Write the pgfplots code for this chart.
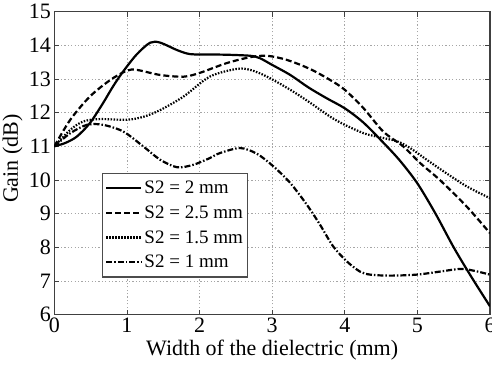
\documentclass[border=0pt]{standalone}
\usepackage{pgfplots}
\pgfplotsset{compat=1.18}
\usepackage{fontspec}
\setmainfont{Liberation Serif}
\begin{document}
\begin{tikzpicture}
\begin{axis}[
  scale only axis,
  width=435.7bp, height=303bp,
  xmin=0, xmax=6, ymin=6, ymax=15,
  xtick={0,1,2,3,4,5,6}, ytick={6,7,8,9,10,11,12,13,14,15},
  grid=major,
  major grid style={gray!70, line width=0.8bp, dash pattern=on 1.2bp off 2.2bp},
  axis line style={gray!50!black, line width=1.2bp},
  tick style={gray!50!black, line width=0.8bp},
  tick align=inside,
  major tick length=5bp,
  tick pos=both,
  /pgf/number format/assume math mode=true,
  ticklabel style={font=\fontsize{22bp}{26bp}\selectfont},
  label style={font=\fontsize{22bp}{26bp}\selectfont},
  xlabel={Width of the dielectric (mm)},
  ylabel={Gain (dB)},
  ylabel style={at={(axis description cs:-0.096,0.515)}, anchor=center},
  legend cell align=left,
  legend style={at={(0.1088,0.4686)}, anchor=north west,
    font=\fontsize{19bp}{22bp}\selectfont,
    draw=gray!60!black, line width=1.2bp, fill=white,
    inner xsep=3bp, inner ysep=6bp, row sep=6.5bp},
  legend image code/.code={\draw[#1] (0bp,0bp) -- (35bp,0bp);},
  every axis plot/.append style={black, line width=2.2bp, smooth},
]
\addplot[solid] coordinates {
(0,11.0) (0.15,11.1) (0.31,11.29) (0.49,11.69) (0.67,12.28) (0.8,12.75) (0.93,13.17)
(1.13,13.72) (1.32,14.08) (1.46,14.08) (1.69,13.86) (1.87,13.74) (2.14,13.73)
(2.4,13.72) (2.7,13.69) (2.83,13.62) (3.0,13.42) (3.25,13.12) (3.5,12.75) (3.75,12.43)
(4.0,12.13) (4.25,11.72) (4.5,11.18) (4.75,10.6) (5.0,9.9) (5.25,9.0) (5.5,8.0)
(5.75,7.1) (6.0,6.25)};
\addlegendentry{S2 = 2 mm\hspace{9bp}}
\addplot[dash pattern=on 6bp off 3bp] coordinates {
(0,11.0) (0.22,11.79) (0.49,12.48) (0.77,12.97) (1.0,13.25) (1.14,13.27) (1.46,13.12)
(1.78,13.07) (2.0,13.18) (2.37,13.47) (2.7,13.65) (2.93,13.69) (3.2,13.57) (3.52,13.3)
(3.8,12.97) (4.0,12.68) (4.26,12.13) (4.53,11.44) (4.81,10.99) (5.04,10.5) (5.31,10.0) (5.68,9.21)
(6.0,8.42)};
\addlegendentry{S2 = 2.5 mm\hspace{9bp}}
\addplot[dash pattern=on 1.5bp off 1.5bp] coordinates {
(0,11.0) (0.22,11.49) (0.4,11.74) (0.63,11.81) (1.0,11.79) (1.23,11.88) (1.46,12.08)
(1.78,12.48) (2.14,13.07) (2.51,13.3) (2.7,13.27) (2.93,13.07) (3.25,12.68) (3.52,12.3)
(3.8,11.88) (4.0,11.64) (4.26,11.39) (4.44,11.29) (4.72,11.15) (4.9,10.95) (5.13,10.6) (5.4,10.2) (5.68,9.81)
(6.0,9.46)};
\addlegendentry{S2 = 1.5 mm\hspace{9bp}}
\addplot[dash pattern=on 6bp off 2bp on 1.5bp off 2bp] coordinates {
(0,11.0) (0.22,11.39) (0.45,11.64) (0.67,11.64) (0.95,11.44) (1.23,10.99) (1.46,10.6)
(1.69,10.38) (1.91,10.45) (2.14,10.65) (2.28,10.8) (2.56,10.95) (2.79,10.78) (3.02,10.4)
(3.25,9.91) (3.48,9.26) (3.66,8.67) (3.84,8.03) (4.03,7.58) (4.21,7.28) (4.35,7.19)
(4.62,7.16) (4.99,7.19) (5.31,7.28) (5.59,7.36) (5.77,7.31) (6.0,7.19)};
\addlegendentry{S2 = 1 mm\hspace{9bp}}
\end{axis}
\pgfresetboundingbox
\path[use as bounding box] ([xshift=-54.3bp,yshift=-53.3bp]current axis.south west) rectangle ([xshift=2bp,yshift=11.7bp]current axis.north east);
\end{tikzpicture}
\end{document}
